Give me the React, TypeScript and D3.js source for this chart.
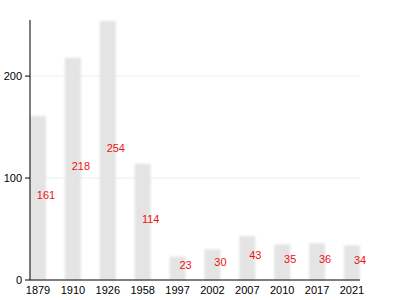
import React from "react";
import * as d3 from "d3";

const years = ["1879", "1910", "1926", "1958", "1997", "2002", "2007", "2010", "2017", "2021"];
const values = [161, 218, 254, 114, 23, 30, 43, 35, 36, 34];
const yTicks = [0, 100, 200];

export default function App() {
  const W = 400, H = 300;
  const left = 30, right = 360, top = 20, bottom = 280;
  const x = d3.scaleBand<string>().domain(years).range([left, right]).paddingInner(0.54).paddingOuter(0);
  const y = d3.scaleLinear().domain([0, 255]).range([bottom, top]);
  const font = "Liberation Sans, Arial, sans-serif";
  return (
    <svg width={W} height={H} style={{ position: "absolute", left: 0, top: 0 }}>
      <defs>
        <filter id="soft" x="-20%" y="-5%" width="140%" height="110%">
          <feGaussianBlur stdDeviation="0.8" />
        </filter>
      </defs>
      {yTicks.filter(t => t > 0).map(t => (
        <line key={t} x1={left} x2={right} y1={y(t)} y2={y(t)} stroke="#ececec" strokeWidth={1} />
      ))}
      <g filter="url(#soft)">
        {values.map((v, i) => (
          <rect key={i} x={x(years[i])!} y={y(v)} width={x.bandwidth()} height={bottom - y(v)} fill="#e4e4e4" />
        ))}
      </g>
      {values.map((v, i) => (
        <text key={i} x={x(years[i])! + x.bandwidth()} y={(y(v) + bottom) / 2 + 1} textAnchor="middle"
          fontFamily={font} fontSize={11} fill="#ee1111">{v}</text>
      ))}
      <line x1={left} x2={left} y1={top} y2={bottom} stroke="#000" strokeWidth={1} />
      <line x1={left} x2={right} y1={bottom} y2={bottom} stroke="#000" strokeWidth={1} />
      {yTicks.map(t => (
        <g key={t}>
          <line x1={left - 5} x2={left} y1={y(t)} y2={y(t)} stroke="#000" />
          <text x={left - 8} y={y(t) + 4} textAnchor="end" fontFamily={font} fontSize={11} fill="#000">{t}</text>
        </g>
      ))}
      {years.map(yr => (
        <text key={yr} x={x(yr)! + x.bandwidth() / 2} y={bottom + 14} textAnchor="middle"
          fontFamily={font} fontSize={11} fill="#000">{yr}</text>
      ))}
    </svg>
  );
}
